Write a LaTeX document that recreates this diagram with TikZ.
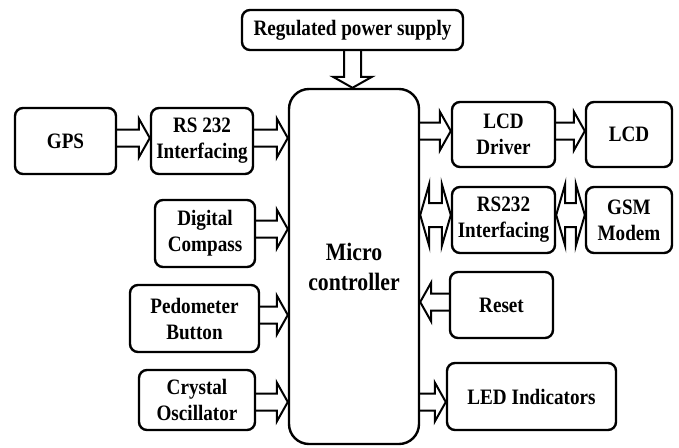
\documentclass[tikz,border=0pt]{standalone}
\usepackage{fontspec}
\setmainfont{Liberation Serif}[FakeStretch=0.87]
\usetikzlibrary{calc}
% hollow block arrow from (#1) to (#2), tip at (#2)
\def\harrow(#1)(#2){\coordinate (s) at (#1); \coordinate (t) at (#2);
	\coordinate (h) at ($(t)!11pt!(s)$);
	\draw[arr] ($(s)!8.5pt!90:(t)$) -- ($(h)!8.5pt!90:(t)$) -- ($(h)!19.5pt!90:(t)$) -- (t)
		-- ($(h)!19.5pt!-90:(t)$) -- ($(h)!8.5pt!-90:(t)$) -- ($(s)!8.5pt!-90:(t)$);}
% hollow block arrow with a tip at both ends
\def\darrow(#1)(#2){\coordinate (s) at (#1); \coordinate (t) at (#2);
	\coordinate (h1) at ($(t)!9pt!(s)$); \coordinate (h2) at ($(s)!9pt!(t)$);
	\draw[arr] (t) -- ($(h1)!31pt!90:(t)$) -- ($(h1)!12pt!90:(t)$) -- ($(h2)!12pt!90:(t)$)
		-- ($(h2)!31pt!90:(t)$) -- (s) -- ($(h2)!31pt!-90:(t)$) -- ($(h2)!12pt!-90:(t)$)
		-- ($(h1)!12pt!-90:(t)$) -- ($(h1)!31pt!-90:(t)$) -- cycle;}

\begin{document}
\begin{tikzpicture}[x=1pt, y=-1pt,
	blk/.style={draw, line width=2.4pt, rounded corners=8pt, align=center,
		font=\fontsize{22}{26}\selectfont\bfseries, inner sep=2pt},
	arr/.style={line width=2pt, line join=miter}]
			%%%%% START %%%%%
			\useasboundingbox (0, 0) rectangle (679, 447);
			
			\node[blk, minimum width=221pt, minimum height=40pt] (power) at (352.5, 30) {Regulated power supply};
			\node[blk, minimum width=130pt, minimum height=355pt, rounded corners=20pt,
				font=\fontsize{25}{30}\selectfont\bfseries] (mc) at (354, 266.5) {Micro\\controller};
			
			% left column
			\node[blk, minimum width=101pt, minimum height=66pt] (gps) at (65.5, 141) {GPS};
			\node[blk, minimum width=102pt, minimum height=66pt] (rs1) at (202, 141) {RS 232\\Interfacing};
			\node[blk, minimum width=100pt, minimum height=67pt] (compass) at (205, 233.5) {Digital\\Compass};
			\node[blk, minimum width=129pt, minimum height=67pt] (pedo) at (194.5, 318.5) {Pedometer\\Button};
			\node[blk, minimum width=116pt, minimum height=60pt] (crystal) at (197, 400) {Crystal\\Oscillator};
			
			% right column
			\node[blk, minimum width=103pt, minimum height=65pt] (lcddrv) at (503.5, 134.5) {LCD\\Driver};
			\node[blk, minimum width=86pt, minimum height=65pt] (lcd) at (629, 134.5) {LCD};
			\node[blk, minimum width=103pt, minimum height=66pt] (rs2) at (503.5, 220) {RS232\\Interfacing};
			\node[blk, minimum width=86pt, minimum height=66pt] (gsm) at (629, 220) {GSM\\Modem};
			\node[blk, minimum width=103pt, minimum height=66pt] (reset) at (501.5, 305) {Reset};
			\node[blk, minimum width=169pt, minimum height=67pt] (led) at (531.5, 396.5) {LED Indicators};
			
			% arrow levels
			\coordinate (gpsout) at ([yshift=3pt]gps.east);
			\coordinate (cmpout) at ([yshift=4.5pt]compass.east);
			\coordinate (pedout) at ([yshift=3.5pt]pedo.east);
			\coordinate (xtlout) at ([yshift=-2pt]crystal.east);
			\coordinate (lcdin) at ([yshift=3.5pt]lcddrv.west);
			\coordinate (rs2in) at ([yshift=5pt]rs2.west);
			\coordinate (rstout) at ([yshift=3pt]reset.west);
			\coordinate (ledin) at ([yshift=-5.5pt]led.west);
			
			\harrow(power.south)(power.south |- mc.north)
			\harrow(gpsout)(gpsout -| rs1.west)
			\harrow(gpsout -| rs1.east)(gpsout -| mc.west)
			\harrow(cmpout)(cmpout -| mc.west)
			\harrow(pedout)(pedout -| mc.west)
			\harrow(xtlout)(xtlout -| mc.west)
			
			\harrow(lcdin -| mc.east)(lcdin)
			\harrow(lcdin -| lcddrv.east)(lcdin -| lcd.west)
			\darrow(rs2in -| mc.east)(rs2in)
			\darrow(rs2in -| rs2.east)(rs2in -| gsm.west)
			\harrow(rstout)(rstout -| mc.east)
			\harrow(ledin -| mc.east)(ledin)
			%%%%% END %%%%%
\end{tikzpicture}
\end{document}
